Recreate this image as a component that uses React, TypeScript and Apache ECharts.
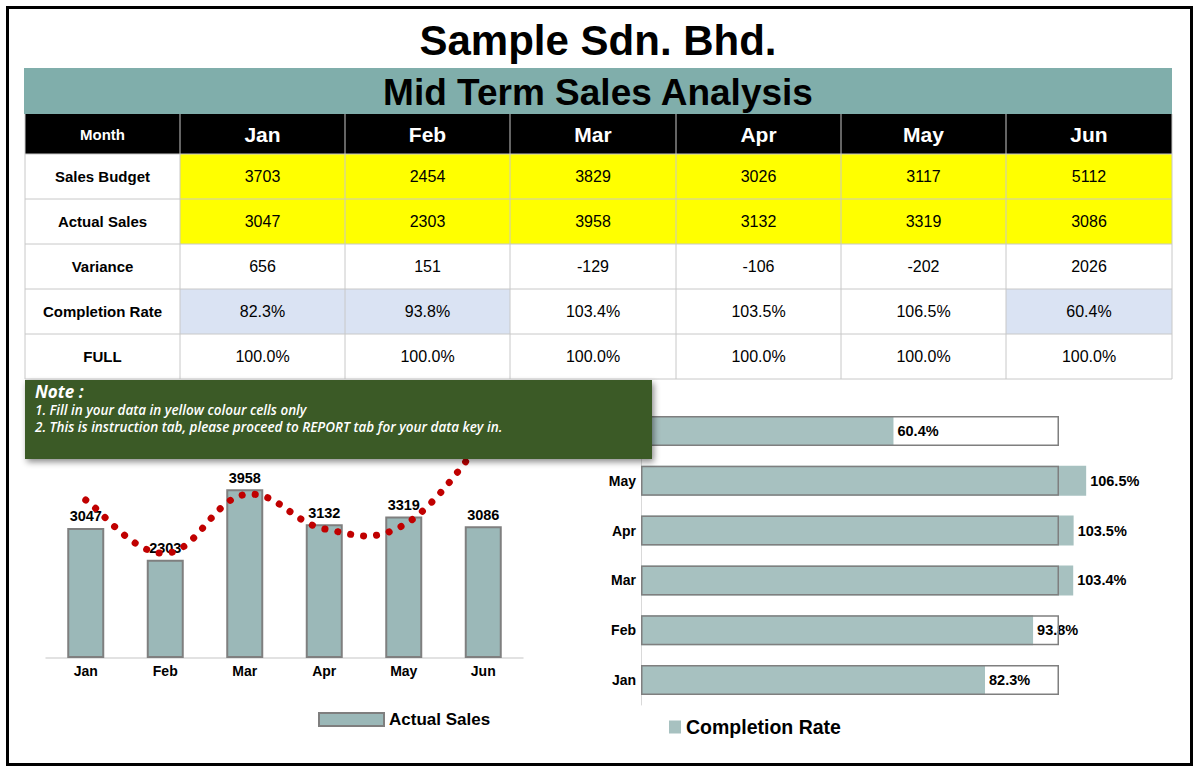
import React, { useEffect, useRef } from "react";
import * as echarts from "echarts";

const months = ["Jan", "Feb", "Mar", "Apr", "May", "Jun"];
const salesBudget = [3703, 2454, 3829, 3026, 3117, 5112];
const actualSales = [3047, 2303, 3958, 3132, 3319, 3086];
const variance = [656, 151, -129, -106, -202, 2026];
const completionRate = [82.3, 93.8, 103.4, 103.5, 106.5, 60.4];
const fullRate = [100, 100, 100, 100, 100, 100];

const rowLabels = ["Sales Budget", "Actual Sales", "Variance", "Completion Rate", "FULL"];
const noteLines = [
  "1. Fill in your data in yellow colour cells only",
  "2. This is instruction tab, please proceed to REPORT tab for your data key in.",
];

const FONT = "'Liberation Sans', Arial, Helvetica, sans-serif";
const NOTE_FONT = "'Open Sans', 'Noto Sans', sans-serif";

// table geometry
const colX = [25, 180, 345, 510, 676, 841, 1006, 1172];
const rowY = [114, 154, 199, 244, 289, 334, 379];

function buildTable(): any[] {
  const els: any[] = [];
  const rows: string[][] = [
    salesBudget.map(String),
    actualSales.map(String),
    variance.map(String),
    completionRate.map((v) => v.toFixed(1) + "%"),
    fullRate.map((v) => v.toFixed(1) + "%"),
  ];
  // header band
  els.push({
    type: "rect",
    shape: { x: colX[0], y: rowY[0], width: colX[7] - colX[0], height: rowY[1] - rowY[0] },
    style: { fill: "#000000" },
    z: 1,
  });
  // body backgrounds
  rows.forEach((vals, r) => {
    vals.forEach((_, c) => {
      let fill = "#ffffff";
      if (r === 0 || r === 1) fill = "#ffff00";
      if (r === 3 && completionRate[c] < 100) fill = "#dae3f3";
      els.push({
        type: "rect",
        shape: { x: colX[c + 1], y: rowY[r + 1], width: colX[c + 2] - colX[c + 1], height: rowY[r + 2] - rowY[r + 1] },
        style: { fill },
        z: 1,
      });
    });
  });
  // grid lines
  for (let r = 1; r < rowY.length; r++) {
    els.push({
      type: "line",
      shape: { x1: colX[0], y1: rowY[r], x2: colX[7], y2: rowY[r] },
      style: { stroke: "#c8c8c8", lineWidth: 1 },
      z: 2,
    });
  }
  for (let c = 0; c < colX.length; c++) {
    els.push({
      type: "line",
      shape: { x1: colX[c], y1: rowY[0], x2: colX[c], y2: rowY[6] },
      style: { stroke: "#c8c8c8", lineWidth: 1 },
      z: 2,
    });
  }
  // header text
  els.push({
    type: "text",
    x: (colX[0] + colX[1]) / 2,
    y: (rowY[0] + rowY[1]) / 2,
    style: { text: "Month", fill: "#ffffff", font: `bold 15px ${FONT}`, align: "center", verticalAlign: "middle" },
    z: 3,
  });
  months.forEach((m, c) => {
    els.push({
      type: "text",
      x: (colX[c + 1] + colX[c + 2]) / 2,
      y: (rowY[0] + rowY[1]) / 2,
      style: { text: m, fill: "#ffffff", font: `bold 21px ${FONT}`, align: "center", verticalAlign: "middle" },
      z: 3,
    });
  });
  // body text
  rows.forEach((vals, r) => {
    const cy = (rowY[r + 1] + rowY[r + 2]) / 2;
    els.push({
      type: "text",
      x: (colX[0] + colX[1]) / 2,
      y: cy,
      style: { text: rowLabels[r], fill: "#000000", font: `bold 15px ${FONT}`, align: "center", verticalAlign: "middle" },
      z: 3,
    });
    vals.forEach((v, c) => {
      els.push({
        type: "text",
        x: (colX[c + 1] + colX[c + 2]) / 2,
        y: cy,
        style: { text: v, fill: "#000000", font: `16px ${FONT}`, align: "center", verticalAlign: "middle" },
        z: 3,
      });
    });
  });
  return els;
}

// Smoothed budget curve (cardinal spline through every budget point, projected with the axes' scales)
function renderBudgetCurve(params: any, api: any) {
  if (params.dataIndex !== 0) return null;
  const pts = salesBudget.map((v, i) => api.coord([i, v]));
  const n = pts.length;
  const t = 1 / 5;
  let d = `M${pts[0][0]},${pts[0][1]}`;
  for (let i = 0; i < n - 1; i++) {
    const p0 = pts[Math.max(0, i - 1)];
    const p1 = pts[i];
    const p2 = pts[i + 1];
    const p3 = pts[Math.min(n - 1, i + 2)];
    const c1x = p1[0] + (p2[0] - p0[0]) * t;
    const c1y = p1[1] + (p2[1] - p0[1]) * t;
    const c2x = p2[0] - (p3[0] - p1[0]) * t;
    const c2y = p2[1] - (p3[1] - p1[1]) * t;
    d += ` C${c1x},${c1y} ${c2x},${c2y} ${p2[0]},${p2[1]}`;
  }
  return {
    type: "path",
    shape: { pathData: d },
    style: {
      fill: "none",
      stroke: "#c00000",
      lineWidth: 7,
      lineDash: [0.1, 13],
      lineCap: "round",
    },
  };
}

export default function App() {
  const ref = useRef<HTMLDivElement>(null);

  useEffect(() => {
    if (!ref.current) return;
    const chart = echarts.init(ref.current, null, { renderer: "svg" });

    const option: any = {
      animation: false,
      backgroundColor: "#ffffff",
      textStyle: { fontFamily: FONT },
      legend: [
        {
          data: ["Actual Sales"],
          left: 318,
          top: 711,
          padding: 0,
          itemWidth: 65,
          itemHeight: 13,
          icon: "rect",
          itemGap: 6,
          textStyle: { fontSize: 17, fontWeight: "bold", color: "#000", fontFamily: FONT, padding: [0, 0, 0, 0] },
        },
        {
          data: ["Completion Rate"],
          left: 669,
          top: 717,
          padding: 0,
          itemWidth: 12,
          itemHeight: 13,
          icon: "rect",
          textStyle: { fontSize: 19.5, fontWeight: "bold", color: "#000", fontFamily: FONT, padding: [0, 0, 0, 0] },
        },
      ],
      grid: [
        { left: 46, right: 677, top: 402, bottom: 116 },
        { left: 641, right: 57.4, top: 406, bottom: 69 },
      ],
      xAxis: [
        {
          type: "category",
          gridIndex: 0,
          data: months,
          axisLine: { lineStyle: { color: "#d9d9d9", width: 1.5 } },
          axisTick: { show: false },
          axisLabel: { color: "#000", fontWeight: "bold", fontSize: 14, margin: 6, fontFamily: FONT },
        },
        {
          type: "value",
          gridIndex: 1,
          min: 0,
          max: 120,
          show: false,
        },
      ],
      yAxis: [
        {
          type: "value",
          gridIndex: 0,
          min: 0,
          max: 6000,
          show: false,
        },
        {
          type: "category",
          gridIndex: 1,
          data: months,
          axisLine: { lineStyle: { color: "#d9d9d9", width: 1 } },
          axisTick: { show: false },
          axisLabel: { color: "#000", fontWeight: "bold", fontSize: 14, margin: 5, fontFamily: FONT },
        },
      ],
      series: [
        {
          name: "Actual Sales",
          type: "bar",
          xAxisIndex: 0,
          yAxisIndex: 0,
          data: actualSales,
          barWidth: 37,
          itemStyle: { color: "#9bb8b8", borderColor: "#7f7f7f", borderWidth: 2 },
          label: {
            show: true,
            position: "top",
            distance: 4,
            color: "#000",
            fontWeight: "bold",
            fontSize: 14.5,
            fontFamily: FONT,
          },
          z: 2,
        },
        {
          name: "Sales Budget",
          type: "custom",
          xAxisIndex: 0,
          yAxisIndex: 0,
          data: salesBudget.map((v, i) => [i, v]),
          encode: { x: 0, y: 1 },
          renderItem: renderBudgetCurve,
          silent: true,
          z: 3,
        },
        {
          name: "Completion Rate",
          type: "bar",
          xAxisIndex: 1,
          yAxisIndex: 1,
          data: completionRate,
          barWidth: 30,
          barGap: "-100%",
          itemStyle: { color: "#a7c1c0" },
          label: {
            show: true,
            position: "right",
            distance: 4,
            color: "#000",
            fontWeight: "bold",
            fontSize: 14.5,
            fontFamily: FONT,
            formatter: "{c}%",
          },
          z: 2,
        },
        {
          name: "FULL",
          type: "bar",
          xAxisIndex: 1,
          yAxisIndex: 1,
          data: fullRate,
          barWidth: 30,
          barGap: "-100%",
          itemStyle: { color: "rgba(0,0,0,0)", borderColor: "#7f7f7f", borderWidth: 1.5 },
          silent: true,
          z: 3,
        },
      ],
      graphic: [
        // page frame
        {
          type: "rect",
          shape: { x: 7.5, y: 7.5, width: 1184, height: 757 },
          style: { fill: "none", stroke: "#000000", lineWidth: 3 },
          z: 1,
        },
        {
          type: "text",
          x: 598,
          y: 40,
          style: {
            text: "Sample Sdn. Bhd.",
            fill: "#000",
            font: `bold 42px ${FONT}`,
            align: "center",
            verticalAlign: "middle",
          },
          z: 3,
        },
        {
          type: "rect",
          shape: { x: 24, y: 68, width: 1148, height: 46 },
          style: { fill: "#80aeab" },
          z: 1,
        },
        {
          type: "text",
          x: 598,
          y: 92,
          style: {
            text: "Mid Term Sales Analysis",
            fill: "#000",
            font: `bold 37px ${FONT}`,
            align: "center",
            verticalAlign: "middle",
          },
          z: 3,
        },
        ...buildTable(),
        // instruction note
        {
          type: "rect",
          shape: { x: 25, y: 380, width: 627, height: 79 },
          style: {
            fill: "#3b5a28",
            shadowBlur: 6,
            shadowColor: "rgba(0,0,0,0.45)",
            shadowOffsetX: 2,
            shadowOffsetY: 3,
          },
          z: 100,
        },
        {
          type: "text",
          x: 35,
          y: 391,
          style: {
            text: "Note :",
            fill: "#ffffff",
            font: `italic bold 17px ${NOTE_FONT}`,
            align: "left",
            verticalAlign: "middle",
          },
          z: 101,
        },
        ...noteLines.map((t, i) => ({
          type: "text",
          x: 35,
          y: 410 + i * 17,
          style: {
            text: t,
            fill: "#ffffff",
            font: `italic 600 13.5px ${NOTE_FONT}`,
            lineHeight: 15,
            align: "left",
            verticalAlign: "middle",
          },
          z: 101,
        })),
      ],
    };

    chart.setOption(option);
    return () => chart.dispose();
  }, []);

  return (
    <div
      ref={ref}
      style={{ position: "absolute", left: 0, top: 0, width: 1200, height: 774, background: "#fff" }}
    />
  );
}
